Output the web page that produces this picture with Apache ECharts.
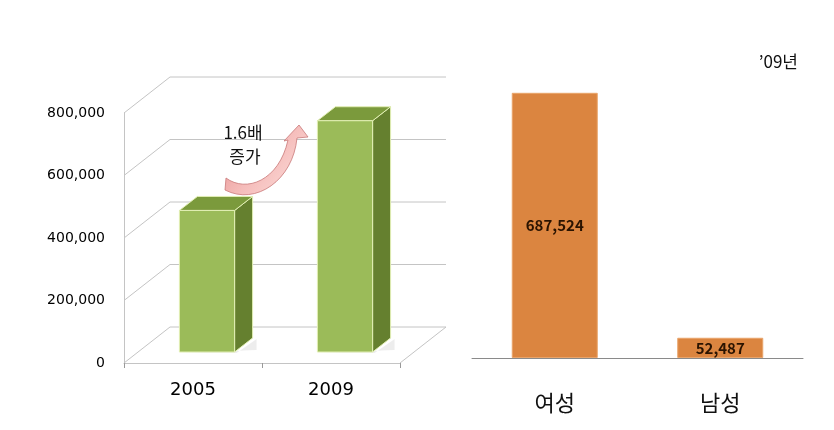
<!DOCTYPE html>
<html>
<head>
<meta charset="utf-8">
<script src="https://cdn.jsdelivr.net/npm/echarts@6/dist/echarts.min.js"></script>
<style>
html, body { margin: 0; padding: 0; background: #fff; }
#main { width: 834px; height: 430px; }
</style>
</head>
<body>
<div id="main"></div>
<script>
// 연도별 합계 (왼쪽 3D 막대)
const years = ['2005', '2009'];
const totals = [453000, 740011];
const yTicks = [0, 200000, 400000, 600000, 800000];
// '09년 성별 (오른쪽 막대)
const genders = ['여성', '남성'];
const genderCounts = [687524, 52487];

const KR = '"Noto Sans CJK KR", sans-serif';
const NUM = '"DejaVu Sans", sans-serif';

// 3D 느낌 오프셋
const WALL = [46, -36];
const BAR_SHIFT = [14, -11];
const BAR_DEPTH = [18, -14];

function fmt(v) { return Number(v).toLocaleString('en-US'); }

// 뒷벽 눈금선 + 옆 대각선
function renderWall(params, api) {
	const cs = params.coordSys;
	const v = api.value(1);
	const y = api.coord([0, v])[1];
	const l = cs.x, r = cs.x + cs.width;
	const line = { stroke: '#c4c4c4', lineWidth: 1, fill: null };
	const children = [{
		type: 'polyline',
		shape: { points: [[l, y], [l + WALL[0], y + WALL[1]], [r + WALL[0], y + WALL[1]]] },
		style: line
	}];
	if (v === 0) {
		children.push({
			type: 'line',
			shape: { x1: r, y1: y, x2: r + WALL[0], y2: y + WALL[1] },
			style: line
		});
	}
	return { type: 'group', children: children };
}

// 입체 막대 (앞면, 윗면, 옆면)
function renderBar(params, api) {
	const top = api.coord([api.value(0), api.value(1)]);
	const base = api.coord([api.value(0), 0]);
	const w = api.size([1, 0])[0] * 0.4;
	const x0 = top[0] - w / 2 + BAR_SHIFT[0], x1 = x0 + w;
	const y0 = top[1] + BAR_SHIFT[1], y1 = base[1] + BAR_SHIFT[1];
	const dx = BAR_DEPTH[0], dy = BAR_DEPTH[1];
	const edge = { stroke: '#e2efb4', lineWidth: 1 };
	return {
		type: 'group',
		children: [
			// 바닥 그림자
			{ type: 'polygon', shape: { points: [[x0 - 2, y1 + 1], [x1 + 2, y1 + 1], [x1 + dx + 4, y1 + dy + 1], [x1 + dx + 4, y1 - 2]] }, style: { fill: 'rgba(0,0,0,0.07)' } },
			{ type: 'polygon', shape: { points: [[x1, y0], [x1 + dx, y0 + dy], [x1 + dx, y1 + dy], [x1, y1]] }, style: Object.assign({ fill: '#65802f' }, edge) },
			{ type: 'polygon', shape: { points: [[x0, y0], [x0 + dx, y0 + dy], [x1 + dx, y0 + dy], [x1, y0]] }, style: Object.assign({ fill: '#7b9a3c' }, edge) },
			{ type: 'rect', shape: { x: x0, y: y0, width: w, height: y1 - y0 }, style: Object.assign({ fill: '#9bbb59' }, edge) }
		]
	};
}

// 곡선 화살표 (베지어를 점으로 풀어서 polygon으로)
function bez(p0, p1, p2, p3, n) {
	const pts = [];
	for (let i = 0; i <= n; i++) {
		const t = i / n, u = 1 - t;
		pts.push([
			u * u * u * p0[0] + 3 * u * u * t * p1[0] + 3 * u * t * t * p2[0] + t * t * t * p3[0],
			u * u * u * p0[1] + 3 * u * u * t * p1[1] + 3 * u * t * t * p2[1] + t * t * t * p3[1]
		]);
	}
	return pts;
}
const arrowPts = []
	.concat(bez([226, 178], [246, 193], [279, 181], [288, 140], 16))
	.concat([[284, 141], [299, 125], [308, 137], [297, 138]])
	.concat(bez([297, 138], [293, 180], [256, 206], [225, 190], 16));

var myChart = echarts.init(document.getElementById('main'));

var option = {
	backgroundColor: '#fff',
	animation: false,
	grid: [
		{ left: 124, top: 113, width: 276, height: 250 },
		{ left: 472, top: 88, width: 331, height: 270 }
	],
	xAxis: [
		{
			type: 'category', gridIndex: 0, data: years,
			axisLine: { lineStyle: { color: '#c4c4c4' } },
			axisTick: { show: true, length: 5, lineStyle: { color: '#999' } },
			axisLabel: { color: '#000', fontSize: 18, fontFamily: NUM, margin: 18 }
		},
		{
			type: 'category', gridIndex: 1, data: genders,
			axisLine: { lineStyle: { color: '#8a8a8a', width: 1 } },
			axisTick: { show: false },
			axisLabel: { color: '#111', fontSize: 22, fontFamily: KR, margin: 34 }
		}
	],
	yAxis: [
		{
			type: 'value', gridIndex: 0, min: 0, max: 800000, interval: 200000,
			axisLine: { show: true, lineStyle: { color: '#c4c4c4' } },
			axisTick: { show: false },
			splitLine: { show: false },
			axisLabel: { color: '#000', fontSize: 14, fontFamily: NUM, margin: 19, formatter: fmt }
		},
		{
			type: 'value', gridIndex: 1, min: 0, max: 700000, show: false,
			splitLine: { show: false }
		}
	],
	series: [
		{
			type: 'custom', xAxisIndex: 0, yAxisIndex: 0, z: 1,
			renderItem: renderWall,
			data: yTicks.map(v => [0, v]),
			encode: { x: 0, y: 1 }
		},
		{
			type: 'custom', xAxisIndex: 0, yAxisIndex: 0, z: 3,
			renderItem: renderBar,
			data: totals.map((v, i) => [i, v]),
			encode: { x: 0, y: 1 }
		},
		{
			type: 'bar', xAxisIndex: 1, yAxisIndex: 1,
			data: genderCounts,
			barWidth: 86,
			itemStyle: { color: '#db8540', borderColor: '#e9a46a', borderWidth: 1 },
			label: {
				show: true, position: 'inside', formatter: p => fmt(p.value),
				color: '#2a1300', fontWeight: 'bold', fontSize: 15, fontFamily: KR
			}
		}
	],
	graphic: [
		{
			type: 'text', x: 798, y: 62,
			style: { text: '’09년', fontSize: 17, fontFamily: KR, fill: '#111', align: 'right', verticalAlign: 'middle' }
		},
		{
			type: 'polygon', z: 5,
			shape: { points: arrowPts },
			style: {
				fill: new echarts.graphic.LinearGradient(0, 0, 1, 1, [
					{ offset: 0, color: '#e58a8a' },
					{ offset: 0.5, color: '#f5bcba' },
					{ offset: 1, color: '#fde3e0' }
				]),
				stroke: '#c97878', lineWidth: 0.8
			}
		},
		{
			type: 'text', x: 243, y: 133, z: 5,
			style: { text: '1.6배', fontSize: 17, fontFamily: KR, fill: '#111', align: 'center', verticalAlign: 'middle' }
		},
		{
			type: 'text', x: 245, y: 157, z: 5,
			style: { text: '증가', fontSize: 17, fontFamily: KR, fill: '#111', align: 'center', verticalAlign: 'middle' }
		}
	]
};

myChart.setOption(option);
</script>
</body>
</html>
